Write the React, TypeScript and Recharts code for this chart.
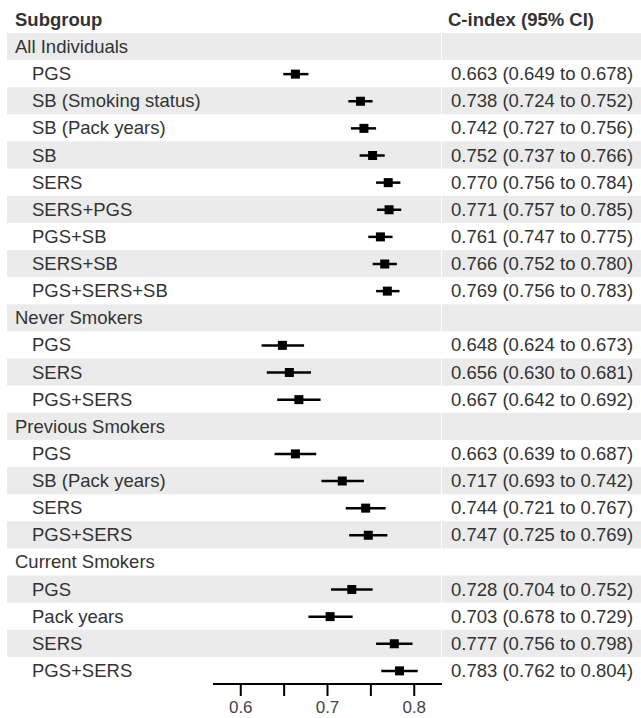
import { ComposedChart, Bar, XAxis, YAxis, ReferenceArea } from "recharts";

// groups and their rows
const groupNames = ["All Individuals", "Never Smokers", "Previous Smokers", "Current Smokers"];

const allModels = ["PGS", "SB (Smoking status)", "SB (Pack years)", "SB", "SERS", "SERS+PGS", "PGS+SB", "SERS+SB", "PGS+SERS+SB"];
const allEst = [0.663, 0.738, 0.742, 0.752, 0.77, 0.771, 0.761, 0.766, 0.769];
const allLower = [0.649, 0.724, 0.727, 0.737, 0.756, 0.757, 0.747, 0.752, 0.756];
const allUpper = [0.678, 0.752, 0.756, 0.766, 0.784, 0.785, 0.775, 0.78, 0.783];

const neverModels = ["PGS", "SERS", "PGS+SERS"];
const neverEst = [0.648, 0.656, 0.667];
const neverLower = [0.624, 0.63, 0.642];
const neverUpper = [0.673, 0.681, 0.692];

const previousModels = ["PGS", "SB (Pack years)", "SERS", "PGS+SERS"];
const previousEst = [0.663, 0.717, 0.744, 0.747];
const previousLower = [0.639, 0.693, 0.721, 0.725];
const previousUpper = [0.687, 0.742, 0.767, 0.769];

const currentModels = ["PGS", "Pack years", "SERS", "PGS+SERS"];
const currentEst = [0.728, 0.703, 0.777, 0.783];
const currentLower = [0.704, 0.678, 0.756, 0.762];
const currentUpper = [0.752, 0.729, 0.798, 0.804];

const xTicks = [0.6, 0.65, 0.7, 0.75, 0.8];

type Row = {
  id: string;
  label: string;
  header: boolean;
  est?: number;
  lower?: number;
  upper?: number;
};

const groupTables = [
  [allModels, allEst, allLower, allUpper],
  [neverModels, neverEst, neverLower, neverUpper],
  [previousModels, previousEst, previousLower, previousUpper],
  [currentModels, currentEst, currentLower, currentUpper],
] as const;

const rows: Row[] = [];
groupNames.forEach((g, gi) => {
  rows.push({ id: `r${rows.length}`, label: g, header: true });
  const [models, est, lower, upper] = groupTables[gi];
  (models as readonly string[]).forEach((m, i) => {
    rows.push({
      id: `r${rows.length}`,
      label: m,
      header: false,
      est: (est as readonly number[])[i],
      lower: (lower as readonly number[])[i],
      upper: (upper as readonly number[])[i],
    });
  });
});

const rowById = (id: string) => rows.find((r) => r.id === id);

const FONT = '"Liberation Sans", Arial, Helvetica, sans-serif';
const TEXT = "#333333";
const STRIPE = "#ebebeb";
const W = 641;
const H = 718;
const FS = 18.5;

const fmt = (v: number) => v.toFixed(3);

const LeftTick = ({ y, payload }: any) => {
  const r = rowById(payload.value);
  if (!r) return null;
  return (
    <text x={r.header ? 15 : 32} y={y} dy="0.35em" fontSize={FS} fill={TEXT} fontFamily={FONT}>
      {r.label}
    </text>
  );
};

const RightTick = ({ y, payload }: any) => {
  const r = rowById(payload.value);
  if (!r || r.header) return null;
  return (
    <text x={451} y={y} dy="0.35em" fontSize={FS} fill={TEXT} fontFamily={FONT}>
      {`${fmt(r.est!)} (${fmt(r.lower!)} to ${fmt(r.upper!)})`}
    </text>
  );
};

// zebra stripe across the whole row, split at the plot's right edge
const RowStripe = (props: any) => {
  const { x, y, width, height } = props;
  const split = x + width;
  return (
    <g>
      <rect x={7} y={y} width={split - 1 - 7} height={height} fill={STRIPE} />
      <rect x={split} y={y} width={W - split} height={height} fill={STRIPE} />
    </g>
  );
};

// CI whisker + point estimate square
const ForestMark = (props: any) => {
  const { x, y, width, height, payload } = props;
  if (!payload || payload.lower == null) return <g />;
  const cy = y + height / 2;
  const span = payload.upper - payload.lower;
  const cx = x + ((payload.est - payload.lower) / span) * width;
  const s = 9;
  return (
    <g>
      <line x1={x} x2={x + width} y1={cy} y2={cy} stroke="#000" strokeWidth={2.5} />
      <rect x={cx - s / 2} y={cy - s / 2} width={s} height={s} fill="#000" />
    </g>
  );
};

export default function App() {
  return (
    <div style={{ position: "absolute", left: 0, top: 0, width: W, height: H, background: "#fff" }}>
      <ComposedChart
        width={W}
        height={H}
        data={rows}
        layout="vertical"
        margin={{ top: 33, right: 9, bottom: 4, left: 13 }}
      >
        <text x={15} y={26} fontSize={FS} fontWeight="bold" fill={TEXT} fontFamily={FONT}>
          Subgroup
        </text>
        <text x={448} y={26} fontSize={FS} fontWeight="bold" fill={TEXT} fontFamily={FONT}>
          C-index (95% CI)
        </text>
        {rows
          .filter((_, i) => i % 2 === 0)
          .map((r) => (
            <ReferenceArea
              key={r.id}
              yAxisId={0}
              y1={r.id}
              y2={r.id}
              ifOverflow="visible"
              shape={RowStripe}
            />
          ))}
        <XAxis
          type="number"
          domain={[0.568, 0.832]}
          ticks={xTicks}
          allowDataOverflow
          interval={0}
          height={30}
          tickFormatter={(v: number) => (Math.round(v * 100) % 10 === 0 ? v.toFixed(1) : "")}
          axisLine={{ stroke: "#000", strokeWidth: 2 }}
          tickLine={{ stroke: "#000", strokeWidth: 2 }}
          tickSize={12}
          tickMargin={5}
          tick={{ fontSize: 17, fill: "#444", fontFamily: FONT }}
        />
        <YAxis
          yAxisId={0}
          type="category"
          dataKey="id"
          width={200}
          interval={0}
          axisLine={false}
          tickLine={false}
          tick={<LeftTick />}
        />
        <YAxis
          yAxisId="right"
          orientation="right"
          type="category"
          dataKey="id"
          width={190}
          interval={0}
          axisLine={false}
          tickLine={false}
          tick={<RightTick />}
        />
        <Bar
          yAxisId={0}
          dataKey={(r: Row) => (r.header ? undefined : [r.lower, r.upper])}
          barSize={10}
          shape={ForestMark}
          isAnimationActive={false}
        />
      </ComposedChart>
    </div>
  );
}
